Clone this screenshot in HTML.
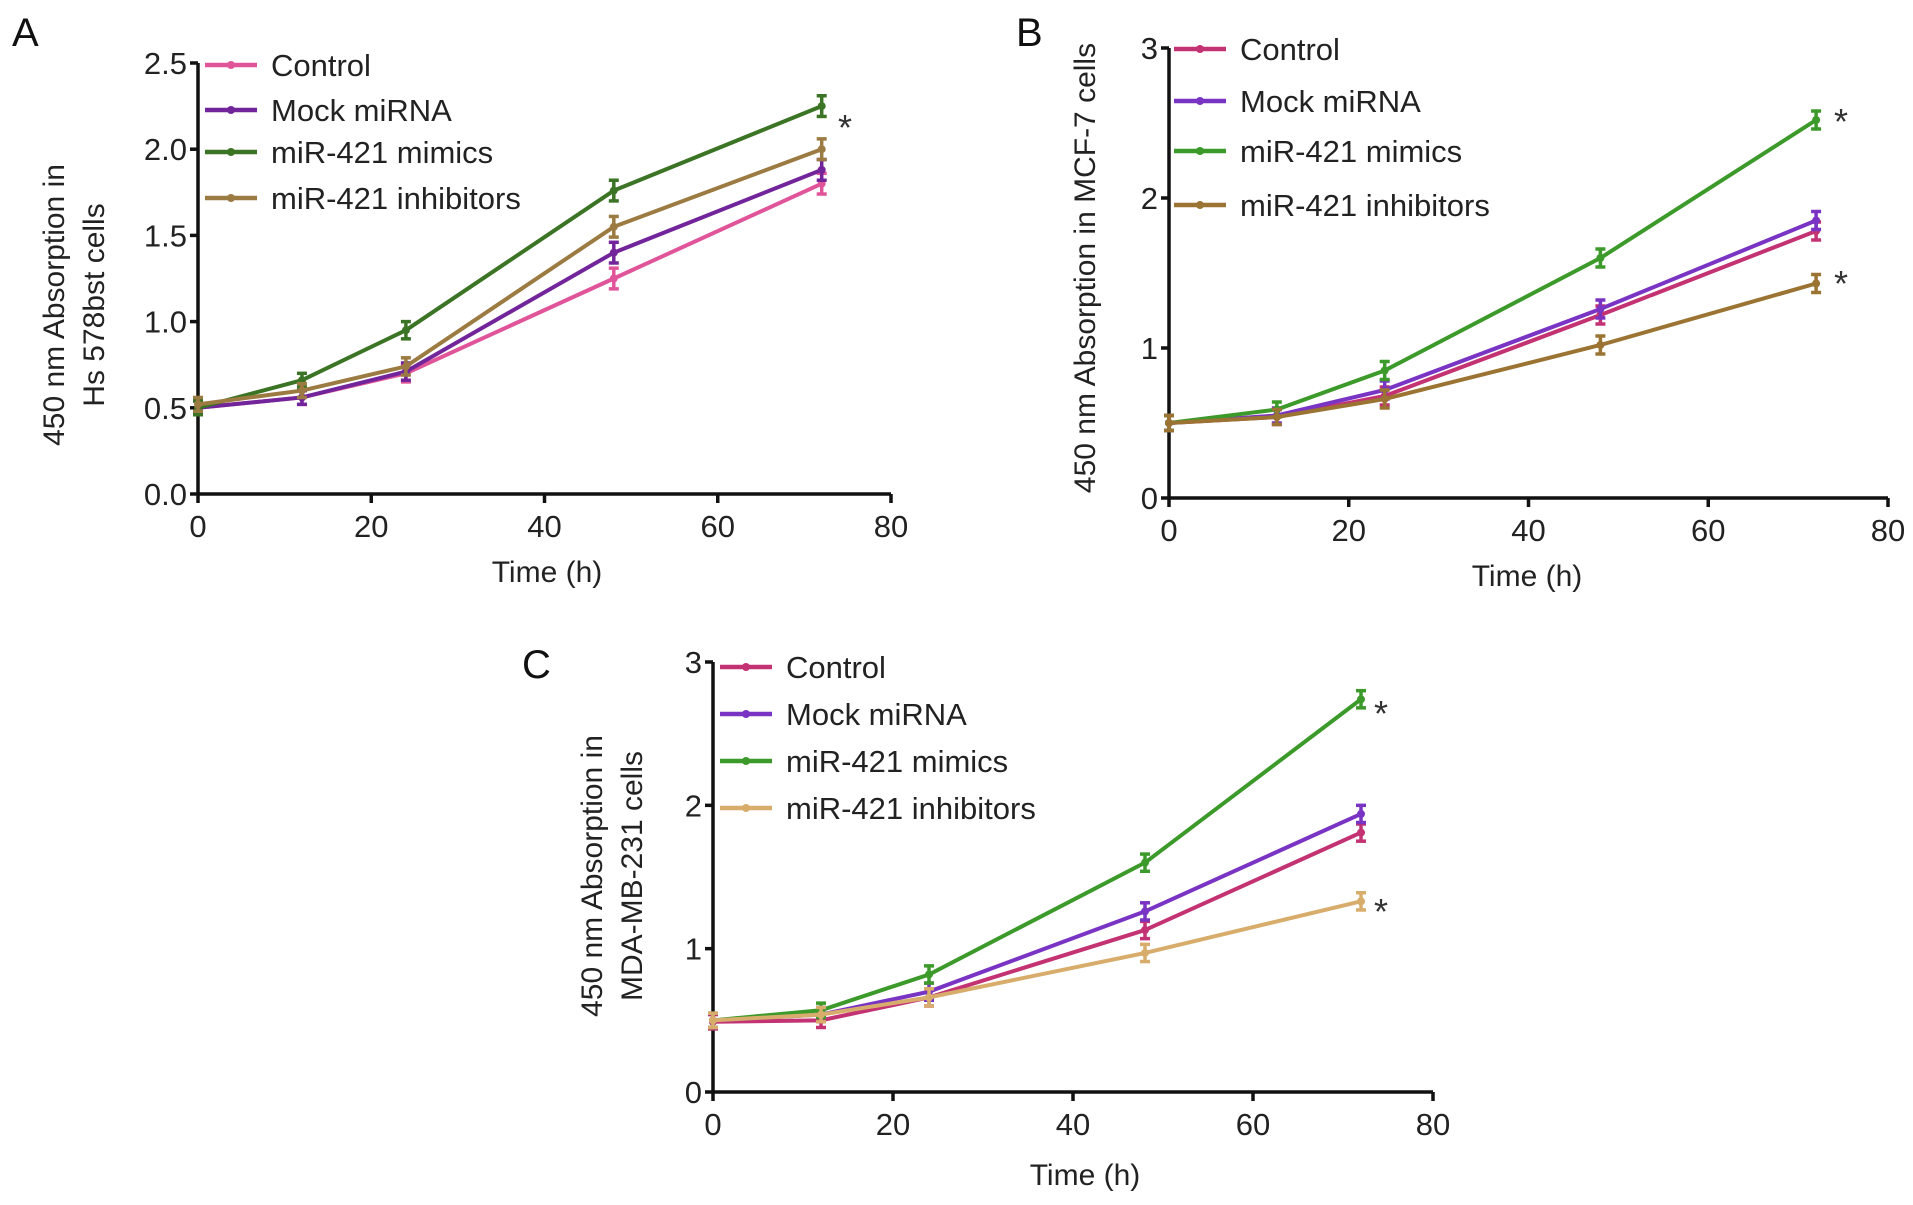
<!DOCTYPE html>
<html><head><meta charset="utf-8"><style>
body{margin:0;background:#fff;}
svg{display:block;font-family:"Liberation Sans",Arial,sans-serif;}
</style></head><body>
<svg id="fig" width="1913" height="1205" viewBox="0 0 1913 1205"></svg>
<script>
const times=[0,12,24,48,72];
const seriesNames=["Control","Mock miRNA","miR-421 mimics","miR-421 inhibitors"];
const aControl=[0.50,0.56,0.70,1.25,1.80];
const aMock=[0.50,0.56,0.71,1.40,1.88];
const aMimics=[0.50,0.66,0.95,1.76,2.25];
const aInhib=[0.52,0.60,0.74,1.55,2.00];
const bControl=[0.50,0.54,0.68,1.22,1.78];
const bMock=[0.50,0.55,0.72,1.26,1.85];
const bMimics=[0.50,0.59,0.85,1.60,2.52];
const bInhib=[0.50,0.54,0.66,1.02,1.43];
const cControl=[0.49,0.50,0.66,1.13,1.81];
const cMock=[0.50,0.54,0.70,1.26,1.94];
const cMimics=[0.50,0.57,0.82,1.60,2.74];
const cInhib=[0.50,0.54,0.66,0.97,1.33];
const aYTicks=["0.0","0.5","1.0","1.5","2.0","2.5"];
const bcYTicks=["0","1","2","3"];
const xTicks=["0","20","40","60","80"];
const errA=[0.04,0.04,0.05,0.06,0.06];
const errBC=[0.05,0.05,0.06,0.06,0.06];

const NS="http://www.w3.org/2000/svg";
const svg=document.getElementById('fig');
function mk(tag,attrs,parent,text){const e=document.createElementNS(NS,tag);for(const k in attrs)e.setAttribute(k,attrs[k]);if(text!==undefined)e.textContent=text;(parent||svg).appendChild(e);return e;}

function panel(cfg){
  const g=mk('g',{});
  
  
  const xs=v=>cfg.x0+(cfg.x1-cfg.x0)*v/80;
  const ys=v=>cfg.y0-(cfg.y0-cfg.y1)*v/cfg.ymax;
  const ya=mk('line',{x1:cfg.x0,y1:cfg.y0,x2:cfg.x0,y2:cfg.y1,stroke:'#111','stroke-width':3.5},g);
  
  
  const xa=mk('line',{x1:cfg.x0,y1:cfg.y0,x2:cfg.x1,y2:cfg.y0,stroke:'#111','stroke-width':3.5},g);
  
  
  cfg.yticks.forEach(t=>{
    const y=ys(parseFloat(t));
    mk('line',{x1:cfg.x0-8,y1:y,x2:cfg.x0,y2:y,stroke:'#111','stroke-width':3.5},g);
    const tx=mk('text',{x:cfg.x0-11,y:y+11,'font-size':31,'text-anchor':'end',fill:'#222'},g,t);
    
    
  });
  xTicks.forEach(t=>{
    const x=xs(parseFloat(t));
    mk('line',{x1:x,y1:cfg.y0,x2:x,y2:cfg.y0+9,stroke:'#111','stroke-width':3.5},g);
    const tx=mk('text',{x:x,y:cfg.y0+43,'font-size':31,'text-anchor':'middle',fill:'#222'},g,t);
    
    
  });
  const xt=mk('text',{x:cfg.xtx,y:cfg.xty,'font-size':30,'text-anchor':'middle',fill:'#222'},g,'Time (h)');
  
  
  const yt=mk('text',{transform:`translate(${cfg.ytx},${cfg.yty}) rotate(-90)`,'font-size':30,'text-anchor':'middle',fill:'#222'},g);
  
  
  cfg.ytitle.forEach((line,i)=>{mk('tspan',{x:0,y:i*40-(cfg.ytitle.length-1)*40/2+10},yt,line);});
  const pl=mk('text',{x:cfg.lx,y:cfg.ly,'font-size':40,fill:'#111'},g,cfg.id);
  
  
  cfg.data.forEach((vals,si)=>{
    const col=cfg.colors[si];
    const sg=mk('g',{},g);
    
    
    const pts=vals.map((v,i)=>xs(times[i])+','+ys(v)).join(' ');
    mk('polyline',{points:pts,fill:'none',stroke:col,'stroke-width':4},sg);
    vals.forEach((v,i)=>{
      const x=xs(times[i]),e=cfg.err[i];
      const yt2=ys(v+e),yb=ys(v-e);
      mk('line',{x1:x,y1:yt2,x2:x,y2:yb,stroke:col,'stroke-width':3.5},sg);
      mk('line',{x1:x-5,y1:yt2,x2:x+5,y2:yt2,stroke:col,'stroke-width':3.5},sg);
      mk('line',{x1:x-5,y1:yb,x2:x+5,y2:yb,stroke:col,'stroke-width':3.5},sg);
      const p=mk('circle',{cx:x,cy:ys(v),r:4,fill:col},sg);
      
      
    });
    const lg=mk('g',{},g);
    
    
    const ly=cfg.legY[si];
    mk('line',{x1:cfg.legX,y1:ly,x2:cfg.legX+52,y2:ly,stroke:col,'stroke-width':4.5},lg);
    mk('circle',{cx:cfg.legX+26,cy:ly,r:4,fill:col},lg);
    mk('text',{x:cfg.legX+66,y:ly+11,'font-size':31,fill:'#222'},lg,seriesNames[si]);
  });
  cfg.stars.forEach(s=>{
    const st=mk('text',{x:s[0],y:s[1],'font-size':36,fill:'#333'},g,'*');
    
    
  });
}

panel({id:'A',x0:198,x1:891,y0:494,y1:63,ymax:2.5,yticks:aYTicks,
  data:[aControl,aMock,aMimics,aInhib],colors:['#e0559a','#72259a','#3b7424','#9c7b42'],err:errA,
  legX:205,legY:[65,110,152,198],xtx:547,xty:582,ytx:74,yty:305,
  ytitle:['450 nm Absorption in','Hs 578bst cells'],lx:12,ly:46,stars:[[838,140]]});
panel({id:'B',x0:1169,x1:1888,y0:498,y1:48,ymax:3,yticks:bcYTicks,
  data:[bControl,bMock,bMimics,bInhib],colors:['#c33272','#7a34c4','#3c9a2a','#9b7433'],err:errBC,
  legX:1174,legY:[49,101,151,205],xtx:1527,xty:586,ytx:1085,yty:268,
  ytitle:['450 nm Absorption in MCF-7 cells'],lx:1016,ly:46,stars:[[1834,134],[1834,296]]});
panel({id:'C',x0:713,x1:1433,y0:1092,y1:662,ymax:3,yticks:bcYTicks,
  data:[cControl,cMock,cMimics,cInhib],colors:['#c33272','#7a34c4','#3c9a2a','#d8ad6c'],err:errBC,
  legX:720,legY:[667,714,761,808],xtx:1085,xty:1185,ytx:612,yty:876,
  ytitle:['450 nm Absorption in','MDA-MB-231 cells'],lx:522,ly:678,stars:[[1374,726],[1374,924]]});
</script>
</body></html>
